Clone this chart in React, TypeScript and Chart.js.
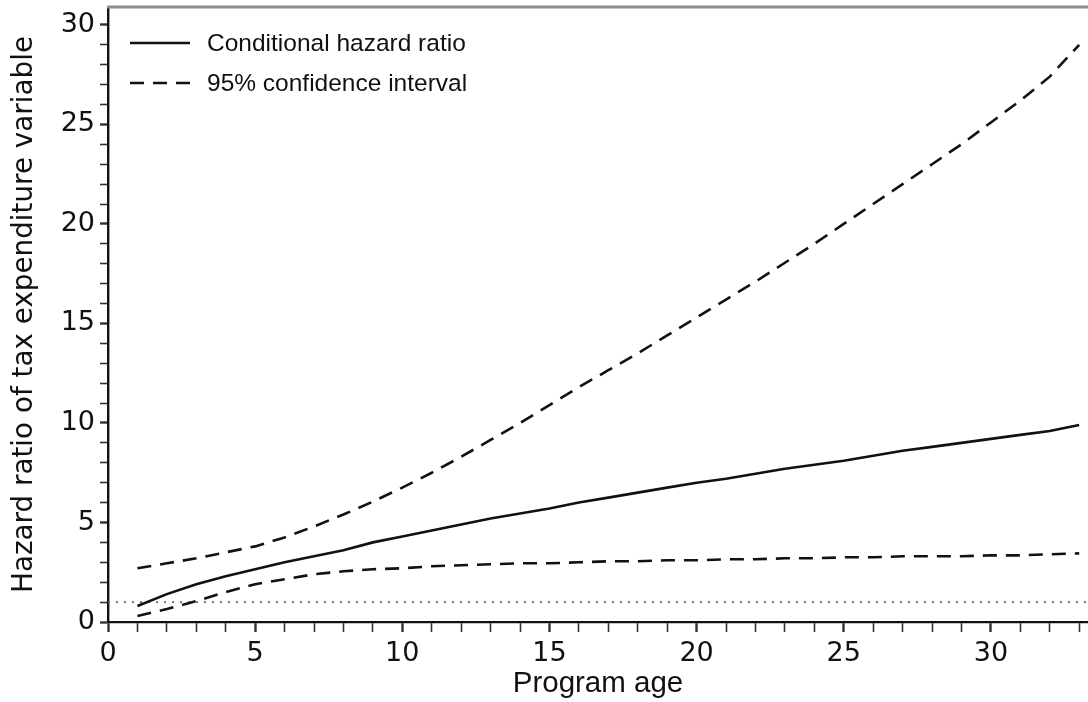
import React, { useEffect, useRef } from "react";
import { Chart, registerables } from "chart.js";

Chart.register(...registerables);

// Program age (years) at which the hazard ratio is evaluated
const ages = [
  1, 2, 3, 4, 5, 6, 7, 8, 9, 10, 11, 12, 13, 14, 15, 16, 17, 18, 19, 20, 21,
  22, 23, 24, 25, 26, 27, 28, 29, 30, 31, 32, 33,
];

// Conditional hazard ratio of the tax expenditure variable
const hazardRatio = [
  0.8, 1.4, 1.9, 2.3, 2.65, 3.0, 3.3, 3.6, 4.0, 4.3, 4.6, 4.9, 5.2, 5.45, 5.7,
  6.0, 6.25, 6.5, 6.75, 7.0, 7.2, 7.45, 7.7, 7.9, 8.1, 8.35, 8.6, 8.8, 9.0, 9.2,
  9.4, 9.6, 9.9,
];

// 95% confidence interval bounds
const upperBound = [
  2.7, 2.95, 3.2, 3.5, 3.8, 4.25, 4.8, 5.4, 6.05, 6.75, 7.5, 8.3, 9.15, 10.0,
  10.9, 11.8, 12.65, 13.5, 14.4, 15.3, 16.2, 17.1, 18.05, 19.0, 20.0, 21.0,
  22.0, 23.0, 24.0, 25.1, 26.2, 27.4, 29.0,
];
const lowerBound = [
  0.3, 0.65, 1.05, 1.5, 1.9, 2.15, 2.4, 2.55, 2.65, 2.7, 2.8, 2.85, 2.9, 2.95,
  2.95, 3.0, 3.05, 3.05, 3.1, 3.1, 3.15, 3.15, 3.2, 3.2, 3.25, 3.25, 3.3, 3.3,
  3.3, 3.35, 3.35, 3.4, 3.45,
];

// Hazard ratio of 1 (no effect) reference level
const nullRatio = 1;

// Axis ranges and labelled tick step
const xRange = [0, 33.3];
const yRange = [0, 30.9];
const majorStep = 5;

const legendLabels = ["Conditional hazard ratio", "95% confidence interval"];
const xTitle = "Program age";
const yTitle = "Hazard ratio of tax expenditure variable";

const W = 1088;
const H = 702;

const TICK_FONT = "'DejaVu Sans', Verdana, sans-serif";
const TEXT_FONT = "'Liberation Sans', Arial, Helvetica, sans-serif";
const DASH = [14, 9];

const toPoints = (ys: number[]) => ages.map((a, i) => ({ x: a, y: ys[i] }));

const frameAndLegend = {
  id: "frameAndLegend",
  afterDraw(chart: any) {
    const { ctx, chartArea } = chart;
    ctx.save();
    // grey frame line along the top of the plot
    ctx.strokeStyle = "#8c8c8c";
    ctx.lineWidth = 3;
    ctx.beginPath();
    ctx.moveTo(chartArea.left - 1, chartArea.top);
    ctx.lineTo(chartArea.right, chartArea.top);
    ctx.stroke();

    // legend in the upper-left corner of the plot
    const x0 = 130;
    const x1 = 190;
    const tx = 207;
    const rows = [43, 83];
    ctx.font = `24.5px ${TEXT_FONT}`;
    ctx.textBaseline = "middle";
    ctx.textAlign = "left";
    rows.forEach((y, i) => {
      ctx.strokeStyle = "#111";
      ctx.lineWidth = 2.5;
      ctx.setLineDash(i === 0 ? [] : DASH);
      ctx.beginPath();
      ctx.moveTo(x0, y);
      ctx.lineTo(x1, y);
      ctx.stroke();
      ctx.setLineDash([]);
      ctx.fillStyle = "#111";
      ctx.fillText(legendLabels[i], tx, y + 1);
    });
    ctx.restore();
  },
};

const keepWholeTicks = (scale: any) => {
  scale.ticks = scale.ticks.filter((t: any) => Number.isInteger(t.value));
};

const tickLabel = (v: any) => (Number(v) % majorStep === 0 ? String(v) : "");
const tickWidth = (c: any) =>
  c.tick && c.tick.value % majorStep === 0 ? 2.4 : 1.6;

export default function App() {
  const canvasRef = useRef<HTMLCanvasElement | null>(null);

  useEffect(() => {
    document.body.style.margin = "0";
    const canvas = canvasRef.current;
    if (!canvas) return;

    const chart = new Chart(canvas, {
      type: "line",
      data: {
        datasets: [
          {
            label: legendLabels[0],
            data: toPoints(hazardRatio),
            borderColor: "#111",
            borderWidth: 2.6,
            pointRadius: 0,
            tension: 0,
          },
          {
            label: legendLabels[1],
            data: toPoints(upperBound),
            borderColor: "#111",
            borderWidth: 2.6,
            borderDash: DASH,
            pointRadius: 0,
            tension: 0,
          },
          {
            label: "lower",
            data: toPoints(lowerBound),
            borderColor: "#111",
            borderWidth: 2.6,
            borderDash: DASH,
            pointRadius: 0,
            tension: 0,
          },
          {
            label: "reference",
            data: [
              { x: xRange[0], y: nullRatio },
              { x: xRange[1], y: nullRatio },
            ],
            borderColor: "#666",
            borderWidth: 1.6,
            borderDash: [2, 6],
            pointRadius: 0,
          },
        ],
      },
      options: {
        responsive: false,
        devicePixelRatio: 1,
        animation: false,
        layout: { padding: { top: 7, right: 0, bottom: 0, left: 0 } },
        plugins: {
          legend: { display: false },
          tooltip: { enabled: false },
        },
        scales: {
          x: {
            type: "linear",
            min: xRange[0],
            max: xRange[1],
            afterBuildTicks: keepWholeTicks,
            afterFit: (s: any) => {
              s.height = 80;
              s.paddingLeft = 0;
              s.paddingRight = 0;
            },
            ticks: {
              stepSize: 1,
              includeBounds: false,
              autoSkip: false,
              maxRotation: 0,
              minRotation: 0,
              padding: 6,
              color: "#111",
              font: { family: TICK_FONT, size: 27 },
              callback: tickLabel,
            },
            grid: {
              display: true,
              drawOnChartArea: false,
              drawTicks: true,
              tickLength: 10,
              tickColor: "#333",
              tickWidth: tickWidth,
            },
            border: { display: true, color: "#111", width: 2.2 },
            title: {
              display: true,
              text: xTitle,
              color: "#111",
              font: { family: TEXT_FONT, size: 29.5 },
              padding: { top: 0, bottom: 0 },
            },
          },
          y: {
            type: "linear",
            min: yRange[0],
            max: yRange[1],
            afterBuildTicks: keepWholeTicks,
            afterFit: (s: any) => {
              s.width = 108;
              s.paddingTop = 0;
              s.paddingBottom = 0;
            },
            ticks: {
              stepSize: 1,
              includeBounds: false,
              autoSkip: false,
              padding: 5,
              color: "#111",
              font: { family: TICK_FONT, size: 27 },
              callback: tickLabel,
            },
            grid: {
              display: true,
              drawOnChartArea: false,
              drawTicks: true,
              tickLength: 8,
              tickColor: "#333",
              tickWidth: tickWidth,
            },
            border: { display: true, color: "#111", width: 2.4 },
            title: {
              display: true,
              text: yTitle,
              color: "#111",
              font: { family: TICK_FONT, size: 27.8 },
              padding: { top: 8, bottom: 0 },
            },
          },
        },
      },
      plugins: [frameAndLegend],
    });

    return () => chart.destroy();
  }, []);

  return (
    <div
      style={{
        position: "fixed",
        left: 0,
        top: 0,
        width: W,
        height: H,
        background: "#fff",
      }}
    >
      <canvas
        ref={canvasRef}
        width={W}
        height={H}
        style={{ width: `${W}px`, height: `${H}px`, display: "block" }}
      />
    </div>
  );
}
